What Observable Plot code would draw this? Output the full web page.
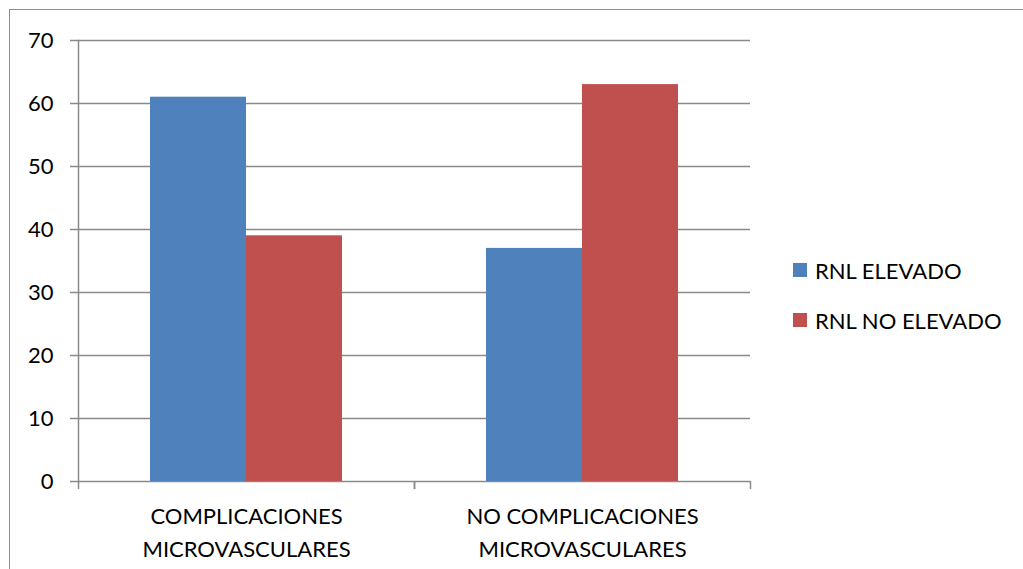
<!DOCTYPE html>
<html>
<head>
<meta charset="utf-8">
<script src="https://cdn.jsdelivr.net/npm/d3@7"></script>
<script src="https://cdn.jsdelivr.net/npm/@observablehq/plot@0.6"></script>
<style>
  html, body { margin: 0; padding: 0; background: #fff; }
  #wrap { position: relative; width: 1023px; height: 569px; overflow: hidden; font-family: Lato, "Open Sans", sans-serif; }
  #border { position: absolute; left: 9px; top: 9px; width: 1100px; height: 700px; border-left: 1.5px solid #8c8c8c; border-top: 1.5px solid #8c8c8c; }
  #chart { position: absolute; left: 0; top: 0; }
  #legend { position: absolute; left: 793px; top: 255px; font-size: 22px; color: #000; }
  .item { display: flex; align-items: center; height: 30px; margin-bottom: 20px; white-space: nowrap; }
  .sw { width: 14px; height: 14px; margin-right: 8px; }
</style>
</head>
<body>
<div id="wrap">
  <div id="border"></div>
  <div id="chart"></div>
  <div id="legend"></div>
</div>
<script>
const categories = ["COMPLICACIONES\nMICROVASCULARES", "NO COMPLICACIONES\nMICROVASCULARES"];
const series = ["RNL ELEVADO", "RNL NO ELEVADO"];
const rnlElevado = [61, 37];
const rnlNoElevado = [39, 63];
const yTicks = [0, 10, 20, 30, 40, 50, 60, 70];
const colors = ["#4F81BD", "#C0504D"];

const data = categories.flatMap((c, i) => [
  {cat: c, series: series[0], value: rnlElevado[i]},
  {cat: c, series: series[1], value: rnlNoElevado[i]}
]);

const W = 1023, H = 569, ML = 78, MR = 273, MT = 40, MB = 88;
const step = (W - ML - MR) / categories.length;
const gray = "#8a8a8a";

const chart = Plot.plot({
  width: W, height: H,
  marginLeft: ML, marginRight: MR, marginTop: MT, marginBottom: MB,
  style: {fontFamily: "Lato, 'Open Sans', sans-serif", fontSize: "22px", color: "#000", background: "transparent", overflow: "visible"},
  fx: {domain: categories, padding: 0, label: null, axis: null},
  x: {domain: series, paddingInner: 0, paddingOuter: 0.75, axis: null},
  y: {domain: [0, 70], axis: null},
  color: {domain: series, range: colors},
  marks: [
    Plot.gridY(yTicks, {stroke: gray, strokeOpacity: 1, strokeWidth: 1.5}),
    Plot.barY(data, {fx: "cat", x: "series", y: "value", fill: "series"}),
    Plot.frame({anchor: "left", facetAnchor: "left", stroke: gray, strokeWidth: 1.5}),
    Plot.axisY(yTicks, {tickSize: 8, tickPadding: 17, stroke: gray, strokeWidth: 1.5, fontSize: 22, label: null, fill: "#000"}),
    Plot.axisFx({anchor: "bottom", text: null, tickSize: 8, dx: -step / 2, stroke: gray, strokeWidth: 1.5, label: null}),
    Plot.axisFx([categories[categories.length - 1]], {anchor: "bottom", text: null, tickSize: 8, dx: step / 2, stroke: gray, strokeWidth: 1.5, label: null}),
    Plot.axisFx({anchor: "bottom", tickSize: 0, tickPadding: 20, fontSize: 22, lineHeight: 1.47, label: null, fill: "#000"})
  ]
});
document.getElementById("chart").appendChild(chart);

const legend = document.getElementById("legend");
series.forEach((s, i) => {
  const item = document.createElement("div");
  item.className = "item";
  const sw = document.createElement("div");
  sw.className = "sw";
  sw.style.background = colors[i];
  const t = document.createElement("span");
  t.textContent = s;
  item.appendChild(sw);
  item.appendChild(t);
  legend.appendChild(item);
});
</script>
</body>
</html>
